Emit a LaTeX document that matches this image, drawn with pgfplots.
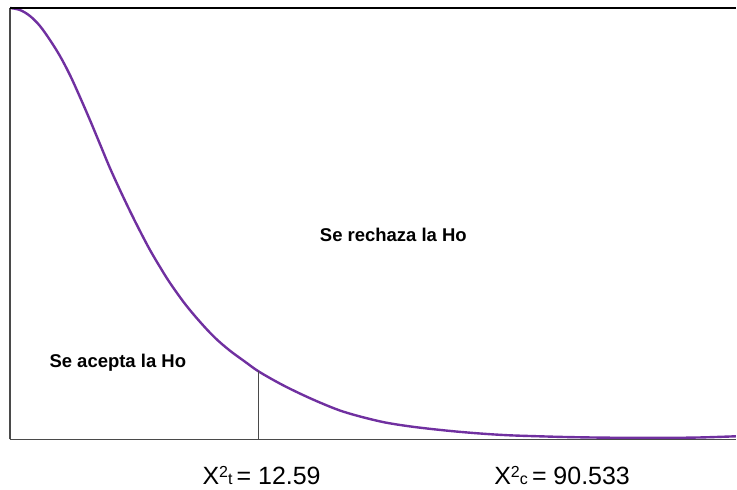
\documentclass[border=0pt]{standalone}
\usepackage{pgfplots}
\pgfplotsset{compat=1.18}
\usepackage{fontspec}
\setmainfont{Liberation Sans}
\definecolor{curvepurple}{HTML}{7030A0}
\definecolor{axgray}{HTML}{4A4A4A}
\newcommand{\supsub}[1]{{\fontsize{16}{16}\selectfont\raisebox{7pt}{2}#1}}
\begin{document}
\begin{tikzpicture}
\begin{axis}[
  scale only axis,
  width=727pt, height=432pt,
  xmin=0, xmax=727, ymin=0, ymax=432,
  hide axis,
  clip=false,
]
\addplot[curvepurple, line width=2.4pt, smooth, tension=0.55] coordinates {
(0,432)(10,430)(20,424)(30,414)(40,400)(50,384)(60,365)(70,343)(80,320)(90,296)(100,272)(110,250)(120,229)(130,209)(140,190)(150,173)(160,157)(175,136)(190,118)(205,102)(220,89)(235,78)(249,68)(270,56)(290,46)(310,37)(330,29)(350,23)(375,17)(400,13)(425,10)(450,7.5)(475,5.5)(500,4)(530,3)(560,2.2)(600,1.6)(650,1.4)(690,1.8)(727,3)
};
\addplot[axgray, line width=1.4pt] coordinates {(249,0)(249,68)};
\draw[axgray, line width=1.5pt] (axis cs:0,0) -- (axis cs:727,0);
\draw[axgray, line width=1.5pt] (axis cs:0,0) -- (axis cs:0,432);
\draw[black, line width=2pt] (axis cs:0,432) -- (axis cs:727,432);
\node[font=\fontsize{18.5}{20}\selectfont\bfseries] at (axis cs:384,205) {Se rechaza la Ho};
\node[font=\fontsize{18.5}{20}\selectfont\bfseries] at (axis cs:108,77) {Se acepta la Ho};
\node[anchor=base, font=\fontsize{25}{27}\selectfont] at (axis cs:252,-45) {X\supsub{t}\,= 12.59};
\node[anchor=base, font=\fontsize{25}{27}\selectfont] at (axis cs:553,-45) {X\supsub{c}\,= 90.533};
\end{axis}
\path[use as bounding box] (-10pt,-50pt) rectangle (727pt,440pt);
\end{tikzpicture}
\end{document}
